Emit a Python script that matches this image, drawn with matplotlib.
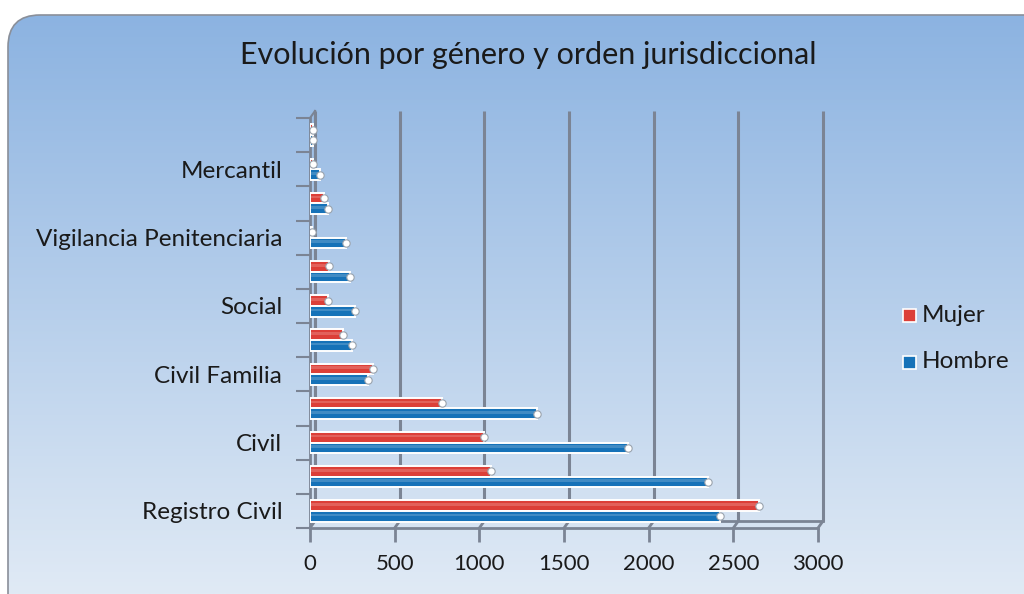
import numpy as np
import matplotlib
matplotlib.use("Agg")
import matplotlib.pyplot as plt
from matplotlib.patches import FancyBboxPatch
import matplotlib.transforms as mtransforms

plt.rcParams["font.family"] = ["Lato", "DejaVu Sans"]

# categories from bottom to top (only every other one is labelled in the original)
categories = ["Registro Civil", "", "Civil", "", "Civil Familia", "", "Social", "",
              "Vigilancia Penitenciaria", "", "Mercantil", ""]
mujer = [2650, 1070, 1030, 780, 370, 195, 105, 110, 10, 80, 20, 20]
hombre = [2420, 2350, 1880, 1340, 345, 250, 265, 235, 215, 105, 60, 20]
xticks = [0, 500, 1000, 1500, 2000, 2500, 3000]

red = "#dc3f38"
blue = "#1672b8"
grid_col = "#7b8494"

W, H = 1024, 594
fig = plt.figure(figsize=(W / 100, H / 100), dpi=100)
fig.patch.set_facecolor("white")

# rounded gradient panel
bg = fig.add_axes([0, 0, 1, 1])
bg.set_xlim(0, W)
bg.set_ylim(H, 0)
bg.axis("off")
grad = np.linspace(0, 1, 256)[:, None]
c_top = np.array([0x8c, 0xb3, 0xe1]) / 255
c_bot = np.array([0xe0, 0xea, 0xf5]) / 255
img = c_top[None, None, :] * (1 - grad[..., None]) + c_bot[None, None, :] * grad[..., None]
img = np.repeat(img, 2, axis=1)
panel = FancyBboxPatch((8, 15), W + 40, H + 40, boxstyle="round,pad=0,rounding_size=32",
                       facecolor="none", edgecolor="#8a8f99", linewidth=1.2, zorder=2)
bg.add_patch(panel)
im = bg.imshow(img, extent=(8, W + 48, H, 15), aspect="auto", zorder=1)
im.set_clip_path(panel)

ax_w, ax_h = 508, 410
ax = fig.add_axes([310 / W, 1 - 528 / H, ax_w / W, ax_h / H])
ax.set_facecolor("none")
y = np.arange(len(categories))
bh = 0.31
ntop = len(categories) - 0.5

# back wall gridlines, shifted up/right to fake depth
ox, oy = 5, 7
back = mtransforms.offset_copy(ax.transData, fig=fig, x=ox, y=oy, units="dots")
for xv in xticks:
    ax.plot([xv, xv], [-0.5, ntop], color=grid_col, lw=2.2,
            transform=back, zorder=1, solid_capstyle="butt", clip_on=False)
ax.plot([0, 3000], [-0.5, -0.5], color=grid_col, lw=2, transform=back, zorder=1, clip_on=False)
ax.plot([0, 0], [-0.5, ntop], color=grid_col, lw=1.5, transform=back, zorder=1, clip_on=False)
# floor / side connectors
dx = ox * 3000 / ax_w
dy = oy * len(categories) / ax_h
for xv in xticks:
    ax.plot([xv, xv + dx], [-0.5, -0.5 + dy], color=grid_col, lw=2, zorder=1, clip_on=False)
ax.plot([0, dx], [ntop, ntop + dy], color=grid_col, lw=1.5, zorder=1, clip_on=False)

for vals, col, off in [(mujer, red, bh / 2), (hombre, blue, -bh / 2)]:
    ax.barh(y + off, vals, height=bh, color=col, edgecolor="white", linewidth=1.4, zorder=3)
    ax.barh(y + off + bh * 0.12, vals, height=bh * 0.25, color="white", alpha=0.18,
            linewidth=0, zorder=4)
    ax.scatter(vals, y + off, s=28, marker="o", facecolor="white", edgecolor="#9aa3ad",
               linewidth=0.8, zorder=5)

ax.set_xlim(0, 3000)
ax.set_ylim(-0.5, ntop)
for s in ["top", "right"]:
    ax.spines[s].set_visible(False)
ax.spines["left"].set_color(grid_col)
ax.spines["left"].set_linewidth(2)
ax.spines["bottom"].set_color(grid_col)
ax.spines["bottom"].set_linewidth(2)

ax.set_xticks(xticks)
ax.set_xticklabels([str(v) for v in xticks], fontsize=16, color="#1a1a1a")
ax.tick_params(axis="x", length=10, width=2, color=grid_col, pad=9)

ax.set_yticks(np.arange(len(categories) + 1) - 0.5)
ax.set_yticklabels([])
ax.tick_params(axis="y", which="major", length=10, width=1.5, color=grid_col)
lab_idx = [i for i, c in enumerate(categories) if c]
ax.set_yticks(lab_idx, minor=True)
ax.set_yticklabels([categories[i] for i in lab_idx], minor=True, fontsize=17.5, color="#1a1a1a")
ax.tick_params(axis="y", which="minor", length=0, pad=20)

fig.text(528 / W, 1 - 55 / H, "Evolución por género y orden jurisdiccional",
         ha="center", va="center", fontsize=22, color="#1a1a1a")

# legend
for i, (lab, col) in enumerate([("Mujer", red), ("Hombre", blue)]):
    yy = 1 - (315 + 47 * i) / H
    fig.patches.append(FancyBboxPatch((903 / W, yy - 7 / H), 13 / W, 13 / H,
                                      boxstyle="square,pad=0", transform=fig.transFigure,
                                      facecolor=col, edgecolor="white", linewidth=1.2))
    fig.text(922 / W, yy, lab, ha="left", va="center", fontsize=17.5, color="#1a1a1a")

fig.savefig("out.png", dpi=100)
